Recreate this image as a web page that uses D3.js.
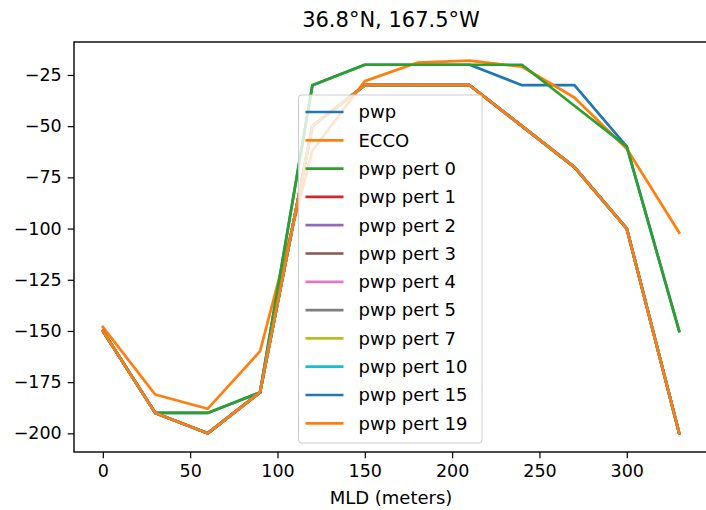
<!DOCTYPE html>
<meta charset="utf-8">
<script src="https://d3js.org/d3.v7.min.js"></script>
<body style="margin:0;background:#fff">
<div id="chart"></div>
</body>
<script>
    // data
    var mld = [0, 30, 60, 90, 120, 150, 180, 210, 240, 270, 300, 330]
    var pwp = [-150, -190, -190, -180, -30, -20, -20, -20, -30, -30, -60, -150]
    var ecco = [-148, -181, -188, -160, -62, -28, -19, -18, -21, -36, -61, -102]
    var pert0 = [-150, -190, -190, -180, -30, -20, -20, -20, -20, -40, -60, -150]
    var pertRest = [-150, -190, -200, -180, -50, -30, -30, -30, -50, -70, -100, -200]
    var seriesNames = ["pwp", "ECCO", "pwp pert 0", "pwp pert 1", "pwp pert 2", "pwp pert 3",
        "pwp pert 4", "pwp pert 5", "pwp pert 7", "pwp pert 10", "pwp pert 15", "pwp pert 19"]
    var seriesValues = [pwp, ecco, pert0, pertRest, pertRest, pertRest, pertRest, pertRest,
        pertRest, pertRest, pertRest, pertRest]
    var colors = ["#1f77b4", "#ff7f0e", "#2ca02c", "#d62728", "#9467bd", "#8c564b",
        "#e377c2", "#7f7f7f", "#bcbd22", "#17becf", "#1f77b4", "#ff7f0e"]
    var xTicks = [0, 50, 100, 150, 200, 250, 300]
    var yTicks = [-200, -175, -150, -125, -100, -75, -50, -25]

    var width = 706, height = 510
    var margin = { top: 42, right: -2, bottom: 58, left: 74 }
    var fontFam = "'DejaVu Sans', sans-serif"

    var svg = d3.select("#chart").append("svg")
        .attr("width", width)
        .attr("height", height)
        .style("font-family", fontFam)

    // matplotlib style 5% padding around the data
    var x = d3.scaleLinear().domain([-16.5, 346.5]).range([margin.left, width - margin.right])
    var y = d3.scaleLinear().domain([-209.1, -8.9]).range([height - margin.bottom, margin.top])

    var line = d3.line()
        .x(function (d, i) { return x(mld[i]) })
        .y(function (d) { return y(d) })

    svg.append("g").selectAll("path")
        .data(seriesValues)
        .enter()
        .append("path")
        .attr("d", function (d) { return line(d) })
        .attr("fill", "none")
        .attr("stroke", function (d, i) { return colors[i] })
        .attr("stroke-width", 2.7)
        .attr("stroke-linejoin", "round")
        .attr("stroke-linecap", "square")

    // axes
    var xAxis = svg.append("g")
        .attr("transform", "translate(0," + (height - margin.bottom) + ")")
        .call(d3.axisBottom(x).tickValues(xTicks).tickSize(6.3).tickPadding(6).tickSizeOuter(0))
    var yAxis = svg.append("g")
        .attr("transform", "translate(" + margin.left + ",0)")
        .call(d3.axisLeft(y).tickValues(yTicks).tickSize(6.3).tickPadding(6).tickSizeOuter(0)
            .tickFormat(function (d) { return "\u2212" + Math.abs(d) }))

    ;[xAxis, yAxis].forEach(function (a) {
        a.select(".domain").remove()
        a.selectAll("line").attr("stroke", "#000").attr("stroke-width", 1.2)
        a.selectAll("text").attr("fill", "#000").style("font-size", "17.5px").style("font-family", fontFam)
    })

    // spines
    svg.append("rect")
        .attr("x", margin.left)
        .attr("y", margin.top)
        .attr("width", width - margin.right - margin.left)
        .attr("height", height - margin.bottom - margin.top)
        .attr("fill", "none")
        .attr("stroke", "#000")
        .attr("stroke-width", 1.4)

    // title and label
    svg.append("text")
        .attr("x", (margin.left + width - margin.right) / 2)
        .attr("y", 27)
        .attr("text-anchor", "middle")
        .style("font-size", "21px")
        .text("36.8°N, 167.5°W")

    svg.append("text")
        .attr("x", (margin.left + width - margin.right) / 2)
        .attr("y", 504)
        .attr("text-anchor", "middle")
        .style("font-size", "18px")
        .text("MLD (meters)")

    // legend (lower center)
    var legend = svg.append("g").attr("transform", "translate(298.5,95)")
    legend.append("rect")
        .attr("width", 183.5)
        .attr("height", 348)
        .attr("rx", 3)
        .attr("fill", "#fff")
        .attr("fill-opacity", 0.8)
        .attr("stroke", "#cccccc")
        .attr("stroke-width", 1)

    var rows = legend.selectAll("g.row")
        .data(seriesNames)
        .enter()
        .append("g")
        .attr("class", "row")
        .attr("transform", function (d, i) { return "translate(0," + (17 + i * 28.3) + ")" })
    rows.append("line")
        .attr("x1", 7)
        .attr("x2", 45)
        .attr("stroke", function (d, i) { return colors[i] })
        .attr("stroke-width", 2.7)
    rows.append("text")
        .attr("x", 60)
        .attr("dy", "0.35em")
        .style("font-size", "18px")
        .text(function (d) { return d })
</script>
